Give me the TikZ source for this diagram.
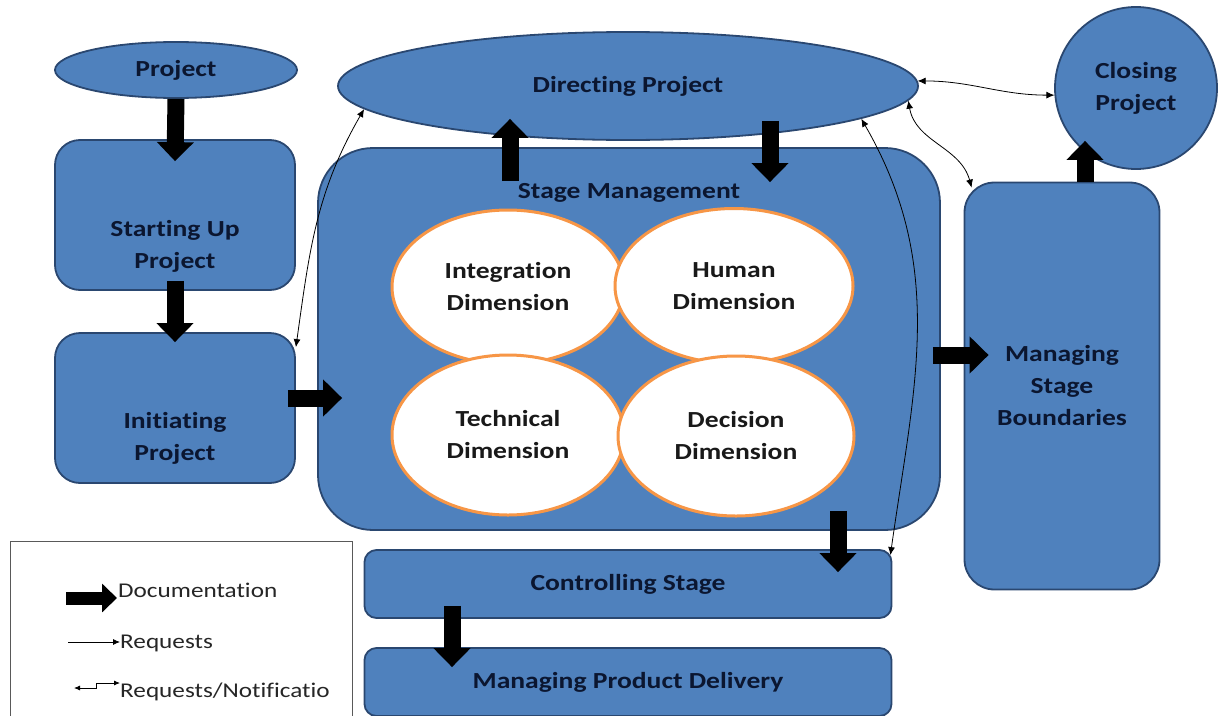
\documentclass[tikz,border=0pt]{standalone}
\usepackage{fontspec}
\setmainfont[FakeStretch=1.2, Ligatures=NoCommon]{Carlito}
\usetikzlibrary{shapes.geometric,arrows.meta}
\definecolor{pblue}{HTML}{4F81BD}
\definecolor{pedge}{HTML}{2A4770}
\definecolor{pnavy}{HTML}{0B1630}
\definecolor{porange}{HTML}{F79646}

\begin{document}
\begin{tikzpicture}[x=1pt,y=1pt,
  boxtext/.style={font=\bfseries\fontsize{23}{32}\selectfont, text=pnavy, align=center},
  procbox/.style={draw=pedge, fill=pblue, line width=1.8pt, rectangle, inner sep=0pt, boxtext},
  procell/.style={draw=pedge, fill=pblue, line width=1.8pt, ellipse, inner sep=0pt, boxtext},
  dimell/.style={draw=porange, fill=white, line width=3pt, ellipse, inner sep=0pt, boxtext, text=black!90},
  docarrow/.style={line width=17pt, -{Triangle[width=36pt,length=19pt]}},
  reqarrow/.style={line width=0.8pt, {Latex[length=8pt,width=7pt]}-{Latex[length=8pt,width=7pt]}},
  legtext/.style={font=\fontsize{21}{26}\selectfont, text=black!85, anchor=west, inner sep=0pt}]
\useasboundingbox (0,0) rectangle (1218,-715);

\node[procell, minimum width=242pt, minimum height=56pt] (proj) at (176,-70) {Project};
\node[procbox, rounded corners=25pt, minimum width=240pt, minimum height=150pt,
  label={[boxtext,yshift=-31pt]center:{Starting Up\\Project}}] (start) at (175,-215) {};
\node[procbox, rounded corners=25pt, minimum width=240pt, minimum height=150pt,
  label={[boxtext,yshift=-30pt]center:{Initiating\\Project}}] (init) at (175,-408) {};
\node[procell, minimum width=580pt, minimum height=108pt] (direct) at (628,-86) {Directing Project};
\node[procbox, rounded corners=55pt, minimum width=622pt, minimum height=382pt,
  label={[boxtext,yshift=146pt]center:Stage Management}] (stage) at (629,-339) {};

\node[dimell, minimum width=232pt, minimum height=154pt] (integ) at (508,-287) {Integration\\Dimension};
\node[dimell, minimum width=238pt, minimum height=155pt] (human) at (734,-286) {Human\\Dimension};
\node[dimell, minimum width=232pt, minimum height=160pt] (tech) at (508,-435) {Technical\\Dimension};
\node[dimell, minimum width=236pt, minimum height=160pt] (decis) at (736,-436) {Decision\\Dimension};

\node[procbox, rounded corners=30pt, minimum width=195pt, minimum height=407pt] (msb) at (1062,-386) {Managing\\Stage\\Boundaries};
\node[procbox, circle, minimum size=162pt] (close) at (1136,-88) {Closing\\Project};
\node[procbox, rounded corners=12pt, minimum width=527pt, minimum height=68pt] (ctrl) at (628,-584) {Controlling Stage};
\node[procbox, rounded corners=12pt, minimum width=527pt, minimum height=68pt] (deliv) at (628,-682) {Managing Product Delivery};

\node[draw=black!65, line width=1pt, fill=white, minimum width=342pt, minimum height=190pt,
  anchor=north west, inner sep=0pt] (legend) at (10,-541) {};
\node[legtext] (doctxt) at (118,-590) {Documentation};
\node[legtext] (reqtxt) at (120,-643) {Requests};
\node[legtext] (nottxt) at (120,-692) {Requests/Notificatio};
\draw[line width=13pt, -{Triangle[width=28pt,length=15pt]}] ([xshift=-52pt,yshift=-8pt]doctxt.west) -- ([xshift=-1pt,yshift=-8pt]doctxt.west);
\draw[line width=0.8pt, -{Latex[length=7pt,width=6pt]}] ([xshift=-52pt,yshift=1pt]reqtxt.west) -- ([yshift=1pt]reqtxt.west);
\draw[line width=0.8pt, {Latex[length=6pt,width=5pt]}-{Latex[length=6pt,width=5pt]}] ([xshift=-46pt,yshift=4pt]nottxt.west) -- ++(22,0) -- ++(0,5) -- ([yshift=9pt]nottxt.west);

\draw[reqarrow] ([yshift=-15pt]init.north east) to[out=82,in=240] (direct.185);
\draw[reqarrow] (direct.1) to[out=0,in=180] (close.185);
\draw[reqarrow] (direct.-3) to[out=-80,in=105] ([shift={(8,-6)}]msb.north west);
\draw[reqarrow] (direct.-8) to[out=-60,in=82] ([shift={(-2,-6)}]ctrl.north east);

\draw[docarrow] (proj.south) -- ([yshift=-22pt]start.north);
\draw[docarrow] ([yshift=10pt]start.south) -- ([yshift=-10pt]init.north);
\draw[docarrow] ([shift={(-8,10)}]init.east) -- ([shift={(25,-59)}]stage.west);
\draw[docarrow] ([shift={(-119,-34)}]stage.north) -- ([shift={(-118,22)}]direct.south);
\draw[docarrow] ([shift={(142,20)}]direct.south) -- ([shift={(141,-35)}]stage.north);
\draw[docarrow] ([shift={(-8,-16)}]stage.east) -- ([shift={(25,31)}]msb.west);
\draw[docarrow] ([xshift=23pt]msb.north) -- ([shift={(-51,29)}]close.south);
\draw[docarrow] ([shift={(209,20)}]stage.south) -- ([shift={(210,-23)}]ctrl.north);
\draw[docarrow] ([shift={(-176,13)}]ctrl.south) -- ([shift={(-176,-20)}]deliv.north);
\end{tikzpicture}
\end{document}
